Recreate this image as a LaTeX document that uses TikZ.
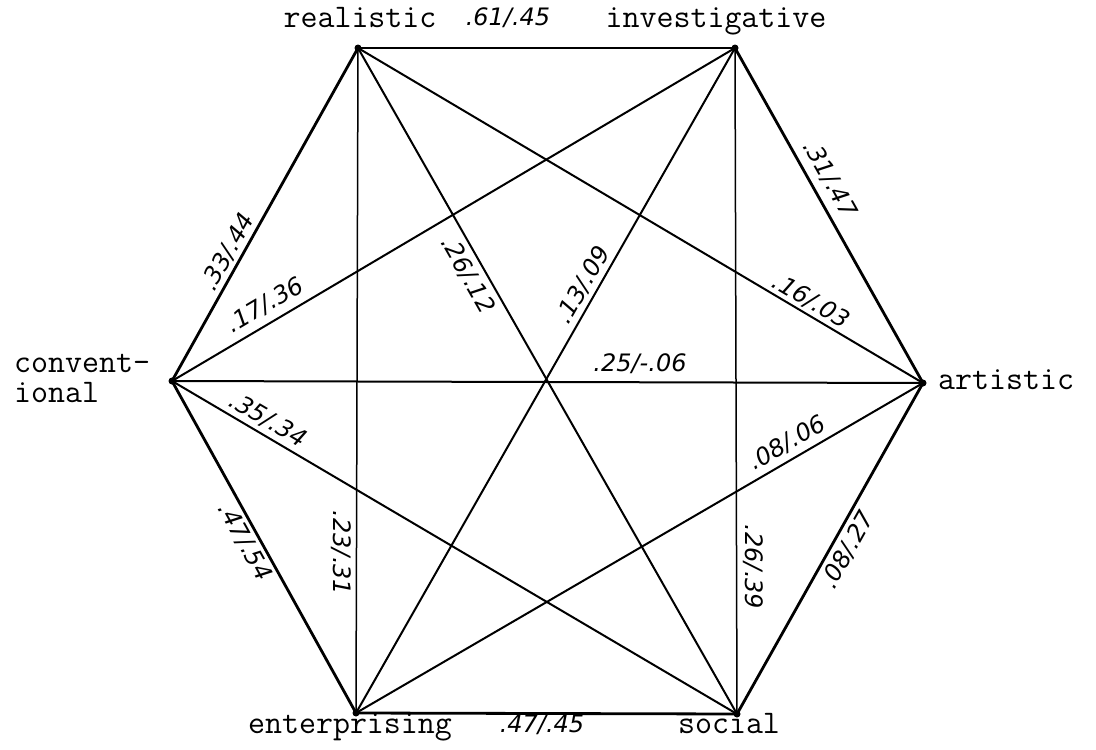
\documentclass[tikz,border=0pt]{standalone}
\usepackage{fontspec}
\usepackage{tikz}
\usetikzlibrary{positioning}

\newfontfamily\handfont{DejaVu Sans}

\tikzset{
  rim/.style={line width=2.8pt, line cap=round},
  chord/.style={line width=2pt},
  vtxlabel/.style={font=\fontsize{33}{30}\selectfont\ttfamily, inner sep=0pt},
  corr/.style={font=\fontsize{24}{25}\selectfont\handfont\itshape, inner sep=0pt},
}

\begin{document}
\begin{tikzpicture}[x=1pt, y=-1pt]
        \useasboundingbox (0,0) rectangle (1096,750);

        % corners of the hexagon
        \coordinate (real) at (358,48);
        \coordinate (inv)  at (735,48);
        \coordinate (art)  at (923,383);
        \coordinate (soc)  at (737,714);
        \coordinate (ent)  at (356,713);
        \coordinate (conv) at (172,381);

        % outer hexagon
        \foreach \a/\b in {real/inv, inv/art, art/soc, soc/ent, ent/conv, conv/real}
          \draw[rim] (\a) -- (\b);

        % inner lines
        \foreach \a/\b in {conv/art, real/soc, inv/ent, real/art, conv/inv, conv/soc, ent/art}
          \draw[chord] (\a) -- (\b);
        \foreach \a/\b in {real/ent, inv/soc}
          \draw[line width=1.5pt] (\a) -- (\b);

        \foreach \p in {real, inv, art, soc, ent, conv}
          \fill (\p) circle (3.5pt);

        % type names
        \node[vtxlabel, anchor=base] (real-l) at (360,27) {realistic};
        \node[vtxlabel, anchor=base] (inv-l) at (716,27) {investigative};
        \node[vtxlabel, anchor=west] (art-l) at (938,380) {artistic};
        \node[vtxlabel, anchor=base] (soc-l) at (729,733) {social};
        \node[vtxlabel, anchor=base] (ent-l) at (350,733) {enterprising};
        \node[vtxlabel, anchor=west, align=left] (conv-l) at (14,378) {convent-\\ional};

        % correlations
        \node[corr, anchor=base] (c-ri) at (508,25) {.61/.45};
        \node[corr, anchor=base] (c-es) at (542,732) {.47/.45};
        \node[corr, rotate=60.8] (c-cr) at (228,252) {.33/.44};
        \node[corr, rotate=30.6] (c-ci) at (265,305) {.17/.36};
        \node[corr, rotate=-60.4] (c-rs) at (468,275) {.26/.12};
        \node[corr, rotate=60.3] (c-ei) at (583,285) {.13/.09};
        \node[corr, rotate=-30.7] (c-ra) at (811,301) {.16/.03};
        \node[corr, rotate=-60.7] (c-ia) at (830,179) {.31/.47};
        \node[corr] (c-ca) at (640,364) {.25/-.06};
        \node[corr, rotate=-30.5] (c-cs) at (268,420) {.35/.34};
        \node[corr, rotate=-61] (c-ce) at (245,542) {.47/.54};
        \node[corr, rotate=-90] (c-re) at (341,553) {.23/.31};
        \node[corr, rotate=-90] (c-is) at (753,567) {.26/.39};
        \node[corr, rotate=30.2] (c-ea) at (787,443) {.08/.06};
        \node[corr, rotate=60.7] (c-as) at (848,550) {.08/.27};
      \end{tikzpicture}
\end{document}
